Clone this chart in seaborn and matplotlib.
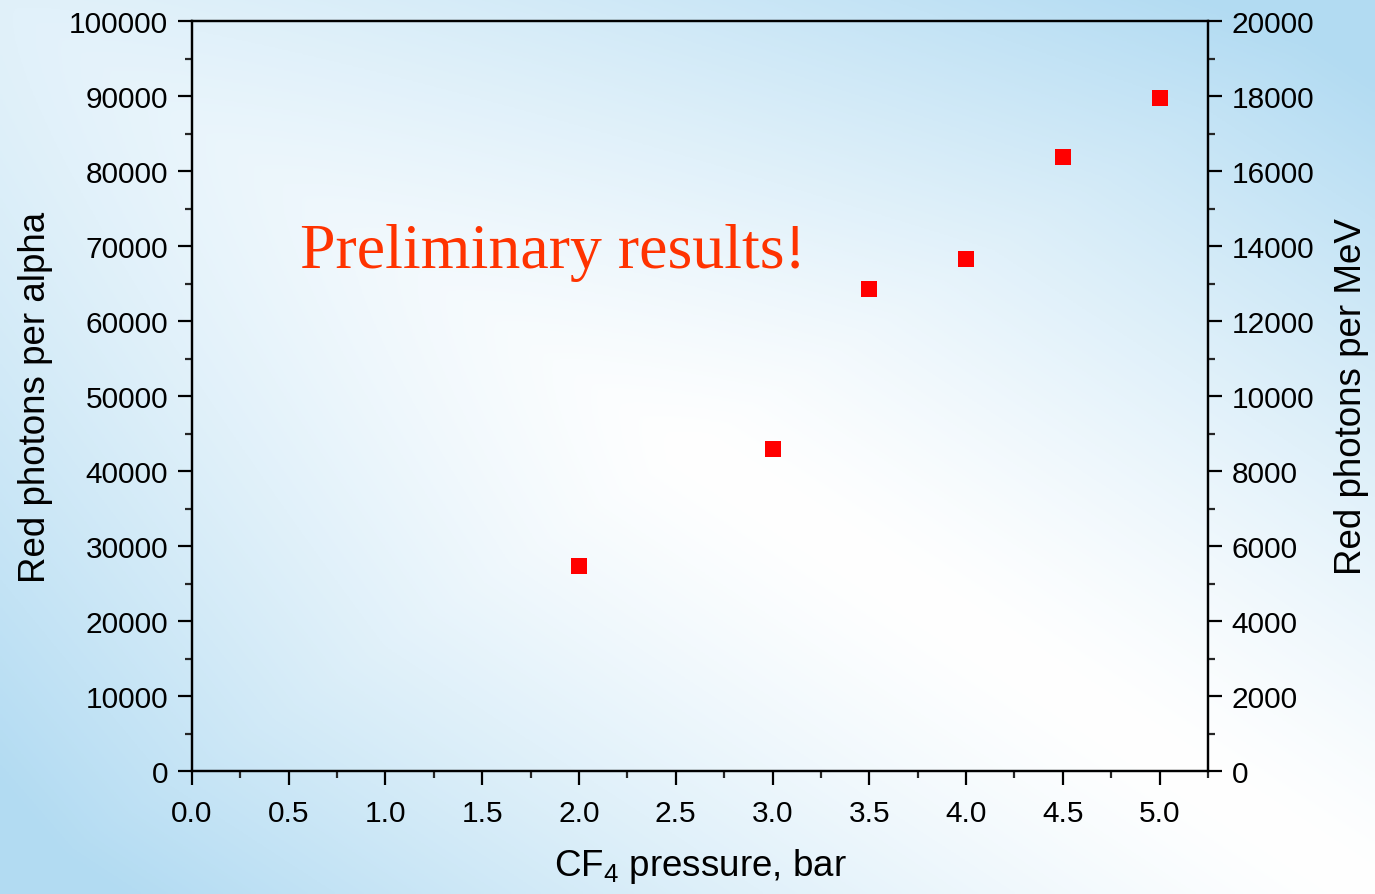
import numpy as np
import pandas as pd
import matplotlib
matplotlib.use("Agg")
import matplotlib.pyplot as plt
from matplotlib.ticker import MultipleLocator
import seaborn as sns

# data
pressure = [2.0, 3.0, 3.5, 4.0, 4.5, 5.0]
photons_per_alpha = [27300, 43000, 64300, 68300, 81900, 89800]

df = pd.DataFrame({"pressure": pressure, "photons": photons_per_alpha})

sns.set_theme(style="ticks")
plt.rcParams['font.family'] = ['Liberation Sans', 'DejaVu Sans']
plt.rcParams['mathtext.fontset'] = 'custom'
plt.rcParams['mathtext.rm'] = 'Liberation Sans'
plt.rcParams['mathtext.it'] = 'Liberation Sans'
plt.rcParams['text.color'] = 'black'
plt.rcParams['axes.labelcolor'] = 'black'

fig = plt.figure(figsize=(13.75, 8.95), dpi=100)

# background gradient: white band along the main diagonal, light blue corners
bg = fig.add_axes([0, 0, 1, 1], zorder=-10)
H, W = 300, 460
yy, xx = np.mgrid[0:H, 0:W]
u, v = xx / W, yy / H
t = np.clip(np.abs(u - v) * 1.1, 0, 1) ** 1.3
t = np.clip(t + 0.4 * np.clip(1 - (u + v), 0, 1), 0, 1)
white = np.array([1.0, 1.0, 1.0])
blue = np.array([0.70, 0.86, 0.95])
img = white[None, None, :] * (1 - t[..., None]) + blue[None, None, :] * t[..., None]
bg.imshow(img, aspect="auto", extent=[0, 1, 0, 1], origin="upper")
bg.axis("off")

ax = fig.add_axes([0.1396, 0.1374, 0.8785 - 0.1396, 0.9754 - 0.1374])
ax.set_facecolor("none")

sns.scatterplot(data=df, x="pressure", y="photons", marker="s", s=135,
                color="#ff0000", linewidth=0, ax=ax, zorder=5)

ax.set_xlim(0, 5.25)
ax.set_ylim(0, 100000)
ax.xaxis.set_major_locator(MultipleLocator(0.5))
ax.xaxis.set_minor_locator(MultipleLocator(0.25))
ax.yaxis.set_major_locator(MultipleLocator(10000))
ax.yaxis.set_minor_locator(MultipleLocator(5000))
ax.xaxis.set_major_formatter(matplotlib.ticker.FormatStrFormatter("%.1f"))

for s in ax.spines.values():
    s.set_linewidth(1.6)
    s.set_color("black")

ax.tick_params(which="major", length=10, width=1.6, labelsize=21.5, color="black",
               labelcolor="black", direction="out")
ax.tick_params(which="minor", length=5, width=1.6, direction="out")
ax.tick_params(axis="y", which="major", pad=7)
ax.tick_params(axis="x", which="major", pad=10)
ax.tick_params(top=False, which="both")

ax.set_xlabel("CF$_4$ pressure, bar", fontsize=26.5, labelpad=14)
ax.set_ylabel("Red photons per alpha", fontsize=26.5, labelpad=12)

ax2 = ax.twinx()
ax2.set_ylim(0, 20000)
ax2.yaxis.set_major_locator(MultipleLocator(2000))
ax2.yaxis.set_minor_locator(MultipleLocator(1000))
ax2.tick_params(which="major", length=10, width=1.6, labelsize=21.5, pad=7,
                direction="out", color="black", labelcolor="black")
ax2.tick_params(which="minor", length=5, width=1.6, direction="out")
for s in ax2.spines.values():
    s.set_linewidth(1.6)
    s.set_color("black")
ax2.set_ylabel("Red photons per MeV", fontsize=26.5, labelpad=14)

ax.text(0.56, 67200, "Preliminary results!", color="#ff3300", fontsize=46,
        family=["Liberation Serif", "DejaVu Serif"], ha="left", va="baseline")

fig.savefig("out.png", dpi=100)
